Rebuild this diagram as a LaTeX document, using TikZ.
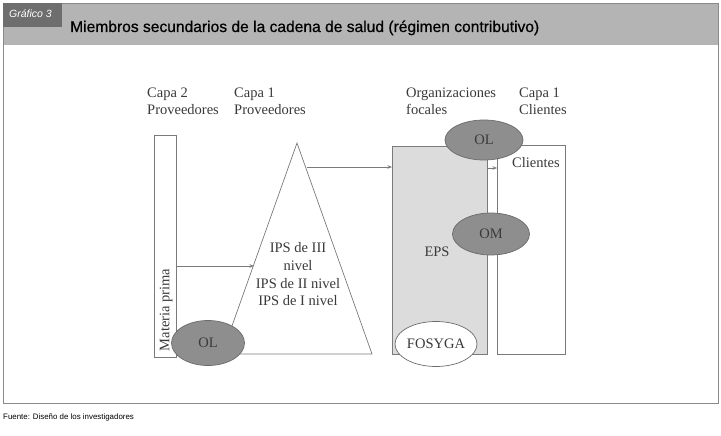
\documentclass[tikz,border=0pt]{standalone}
\usepackage{fontspec}
\setmainfont{Liberation Serif}
\setsansfont{Liberation Sans}
\newfontfamily\ttlfont[FakeBold=0.6]{Liberation Sans}
\usetikzlibrary{arrows.meta,shapes.geometric}
\definecolor{hdr}{HTML}{B4B4B4}
\definecolor{tagc}{HTML}{6E6E6E}
\definecolor{frm}{HTML}{8A8A8A}
\definecolor{ln}{HTML}{7A7A7A}
\definecolor{ellc}{HTML}{8E8E8E}
\definecolor{ellb}{HTML}{6A6A6A}
\definecolor{epsc}{HTML}{DCDCDC}
\definecolor{txt}{HTML}{3A3A3A}
\begin{document}
\begin{tikzpicture}[x=1pt,y=-1pt,
  lab/.style={font=\fontsize{14.5}{17}\selectfont, text=txt, inner sep=0, anchor=base west},
  ctr/.style={font=\fontsize{14.5}{17}\selectfont, text=txt, inner sep=0, anchor=base},
  conn/.style={draw=ln, line width=0.7pt, -{Stealth[length=4.5pt,width=3.5pt]}},
  shp/.style={draw=ln, line width=0.7pt},
  ellnode/.style={ellipse, draw=ellb, line width=0.7pt, fill=ellc, inner sep=0, text=txt, font=\fontsize{14.5}{17}\selectfont}]
\useasboundingbox (0,0) rectangle (721,436);
% frame and header
\fill[white] (0,0) rectangle (721,436);
\fill[hdr] (3,3) rectangle (718,45);
\draw[frm, line width=0.8pt] (3,3) rectangle (718,403);
\node[fill=tagc, minimum width=59pt, minimum height=24pt, inner sep=0, anchor=north west] (tag) at (3,3) {};
\node[font=\sffamily\itshape\fontsize{10.5}{12}\selectfont, text=white, anchor=base west, inner sep=0] (tagtxt) at (9,18) {Gráfico 3};
\node[font=\ttlfont\fontsize{15.6}{18}\selectfont, text=black, anchor=base west, inner sep=0] (title) at (70,32) {Miembros secundarios de la cadena de salud (régimen contributivo)};
\node[font=\sffamily\fontsize{7.9}{9}\selectfont, text=black, anchor=base west, inner sep=0] (src) at (3,419) {Fuente: Diseño de los investigadores};
% column labels
\node[lab] (c2a) at (147,98) {Capa 2};
\node[lab] (c2b) at (147,114) {Proveedores};
\node[lab] (c1a) at (234,98) {Capa 1};
\node[lab] (c1b) at (234,114) {Proveedores};
\node[lab] (ofa) at (406,98) {Organizaciones};
\node[lab] (ofb) at (406,114) {focales};
\node[lab] (cca) at (519,98) {Capa 1};
\node[lab] (ccb) at (519,114) {Clientes};
% materia prima
\node[shp, fill=white, minimum width=22pt, minimum height=222pt, inner sep=0, anchor=north west] (mp) at (154,135) {};
\node[ctr, rotate=90, anchor=center] (mptxt) at (166,310) {Materia prima};
% triangle
\coordinate (apex) at (297,143);
\coordinate (tbl) at (222,354);
\coordinate (tbr) at (372,354);
\draw[shp] (apex) -- (tbr) -- (tbl) -- cycle;
\node[ctr] (ips1) at (298,252) {IPS de III};
\node[ctr] (ips2) at (298,270) {nivel};
\node[ctr] (ips3) at (298,288) {IPS de II nivel};
\node[ctr] (ips4) at (298,305) {IPS de I nivel};
\node[ellnode, minimum width=73pt, minimum height=45pt] (ol1) at (208,343) {OL};
% focal organizations
\node[shp, fill=epsc, minimum width=95pt, minimum height=208pt, inner sep=0, anchor=north west] (eps) at (392,146) {};
\node[shp, fill=white, minimum width=68pt, minimum height=209pt, inner sep=0, anchor=north west] (cli) at (497,145) {};
\node[ctr] (epstxt) at (437,256) {EPS};
\node[ctr] (clitxt) at (536,167) {Clientes};
\node[ellnode, minimum width=78pt, minimum height=40pt] (ol2) at (484,140) {OL};
\node[ellnode, minimum width=77pt, minimum height=42pt] (om) at (491,234) {OM};
\node[ellnode, fill=white, minimum width=70pt, minimum height=45pt] (fos) at (436,344) {FOSYGA};
% connectors
\coordinate (a1s) at (176,266);
\coordinate (a1e) at (254,266);
\draw[conn] (a1s) -- (a1e);
\coordinate (a2s) at (307,167);
\draw[conn] (a2s) -- (eps.west |- a2s);
\draw[conn] (eps.east |- 0,168) -- (cli.west |- 0,168);
\end{tikzpicture}
\end{document}
